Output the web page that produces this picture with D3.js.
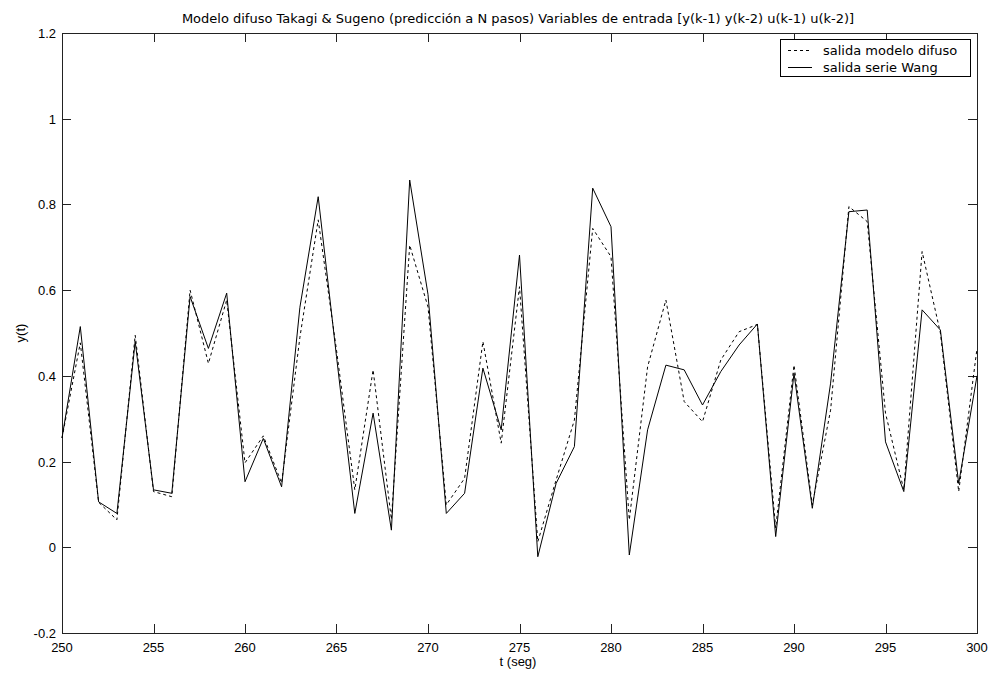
<html lang="en">
<head>
<meta charset="UTF-8">
<title>Modelo difuso Takagi & Sugeno</title>
<style>
    body { margin: 0; background: #fff; }
    svg text { font-family: "Liberation Sans", Arial, sans-serif; font-size: 13px; fill: #000; }
    svg text.wide { font-family: "DejaVu Sans", sans-serif; font-size: 13px; }
</style>
</head>
<body>
<svg id="chart" width="992" height="673"></svg>
<script src="https://d3js.org/d3.v7.min.js"></script>
<script>
    // t = 250 .. 300, one sample per second
    const tValues = d3.range(250, 301);
    const wangSeries = [
        0.255, 0.515, 0.106, 0.079, 0.480, 0.134, 0.126, 0.585, 0.464, 0.593,
        0.153, 0.254, 0.141, 0.560, 0.818, 0.445, 0.079, 0.313, 0.040, 0.857,
        0.590, 0.079, 0.126, 0.418, 0.274, 0.682, -0.022, 0.149, 0.235, 0.838,
        0.748, -0.018, 0.274, 0.425, 0.414, 0.332, 0.410, 0.472, 0.521, 0.025,
        0.406, 0.091, 0.383, 0.783, 0.787, 0.246, 0.130, 0.554, 0.507, 0.149,
        0.400
    ];
    const fuzzySeries = [
        0.255, 0.477, 0.105, 0.064, 0.495, 0.130, 0.118, 0.600, 0.429, 0.577,
        0.197, 0.260, 0.150, 0.490, 0.764, 0.460, 0.134, 0.414, 0.065, 0.705,
        0.561, 0.099, 0.161, 0.480, 0.243, 0.608, 0.013, 0.157, 0.297, 0.744,
        0.678, 0.064, 0.421, 0.577, 0.340, 0.293, 0.437, 0.503, 0.520, 0.045,
        0.425, 0.099, 0.320, 0.795, 0.760, 0.313, 0.134, 0.690, 0.500, 0.130,
        0.464
    ];
    const xTicks = [250, 255, 260, 265, 270, 275, 280, 285, 290, 295, 300];
    const yTicks = [-0.2, 0, 0.2, 0.4, 0.6, 0.8, 1, 1.2];

    const svg = d3.select("#chart");
    const plotLeft = 62, plotRight = 977, plotTop = 33, plotBottom = 633;

    const x = d3.scaleLinear().domain([250, 300]).range([plotLeft, plotRight]);
    const y = d3.scaleLinear().domain([-0.2, 1.2]).range([plotBottom, plotTop]);

    // frame
    svg.append("rect")
        .attr("x", plotLeft + 0.5).attr("y", plotTop + 0.5)
        .attr("width", plotRight - plotLeft).attr("height", plotBottom - plotTop)
        .attr("fill", "none").attr("stroke", "#222").attr("stroke-width", 1);

    // inward ticks on all four sides
    const tickLen = 9;
    const ticks = svg.append("g").attr("stroke", "#222").attr("stroke-width", 1);
    xTicks.forEach(t => {
        const px = Math.round(x(t)) + 0.5;
        ticks.append("line").attr("x1", px).attr("x2", px).attr("y1", plotBottom).attr("y2", plotBottom - tickLen);
        ticks.append("line").attr("x1", px).attr("x2", px).attr("y1", plotTop).attr("y2", plotTop + tickLen);
    });
    yTicks.forEach(v => {
        const py = Math.round(y(v)) + 0.5;
        ticks.append("line").attr("x1", plotLeft).attr("x2", plotLeft + tickLen).attr("y1", py).attr("y2", py);
        ticks.append("line").attr("x1", plotRight).attr("x2", plotRight - tickLen).attr("y1", py).attr("y2", py);
    });

    // tick labels
    svg.append("g").selectAll("text")
        .data(xTicks).enter().append("text")
        .attr("x", d => x(d)).attr("y", plotBottom + 19)
        .attr("text-anchor", "middle")
        .text(d => d);

    svg.append("g").selectAll("text")
        .data(yTicks).enter().append("text")
        .attr("x", plotLeft - 6).attr("y", d => y(d) + 5)
        .attr("text-anchor", "end")
        .text(d => d3.format("~g")(d).replace("−", "-"));

    // titles
    svg.append("text")
        .attr("class", "wide")
        .attr("x", 518).attr("y", 23)
        .attr("text-anchor", "middle")
        .text("Modelo difuso Takagi & Sugeno (predicción a N pasos) Variables de entrada [y(k-1) y(k-2) u(k-1) u(k-2)]");

    svg.append("text")
        .attr("x", 518).attr("y", 666)
        .attr("text-anchor", "middle")
        .text("t (seg)");

    svg.append("text")
        .attr("transform", `translate(25, ${(plotTop + plotBottom) / 2}) rotate(-90)`)
        .attr("text-anchor", "middle")
        .text("y(t)");

    // series
    const line = d3.line().x((d, i) => x(tValues[i])).y(d => y(d));

    svg.append("path")
        .datum(fuzzySeries)
        .attr("d", line)
        .attr("fill", "none").attr("stroke", "#000").attr("stroke-width", 1)
        .attr("stroke-dasharray", "3,3");

    svg.append("path")
        .datum(wangSeries)
        .attr("d", line)
        .attr("fill", "none").attr("stroke", "#000").attr("stroke-width", 1);

    // legend
    const lg = svg.append("g");
    lg.append("rect")
        .attr("x", 780.5).attr("y", 39.5).attr("width", 190).attr("height", 37)
        .attr("fill", "#fff").attr("stroke", "#000");
    const legendItems = [
        { label: "salida modelo difuso", dash: "3,3" },
        { label: "salida serie Wang", dash: null }
    ];
    legendItems.forEach((d, i) => {
        const cy = 50.5 + i * 17;
        lg.append("line")
            .attr("x1", 788).attr("x2", 812).attr("y1", cy).attr("y2", cy)
            .attr("stroke", "#000").attr("stroke-dasharray", d.dash);
        lg.append("text").attr("class", "wide").attr("x", 823).attr("y", cy + 4).text(d.label);
    });
</script>
</body>
</html>
